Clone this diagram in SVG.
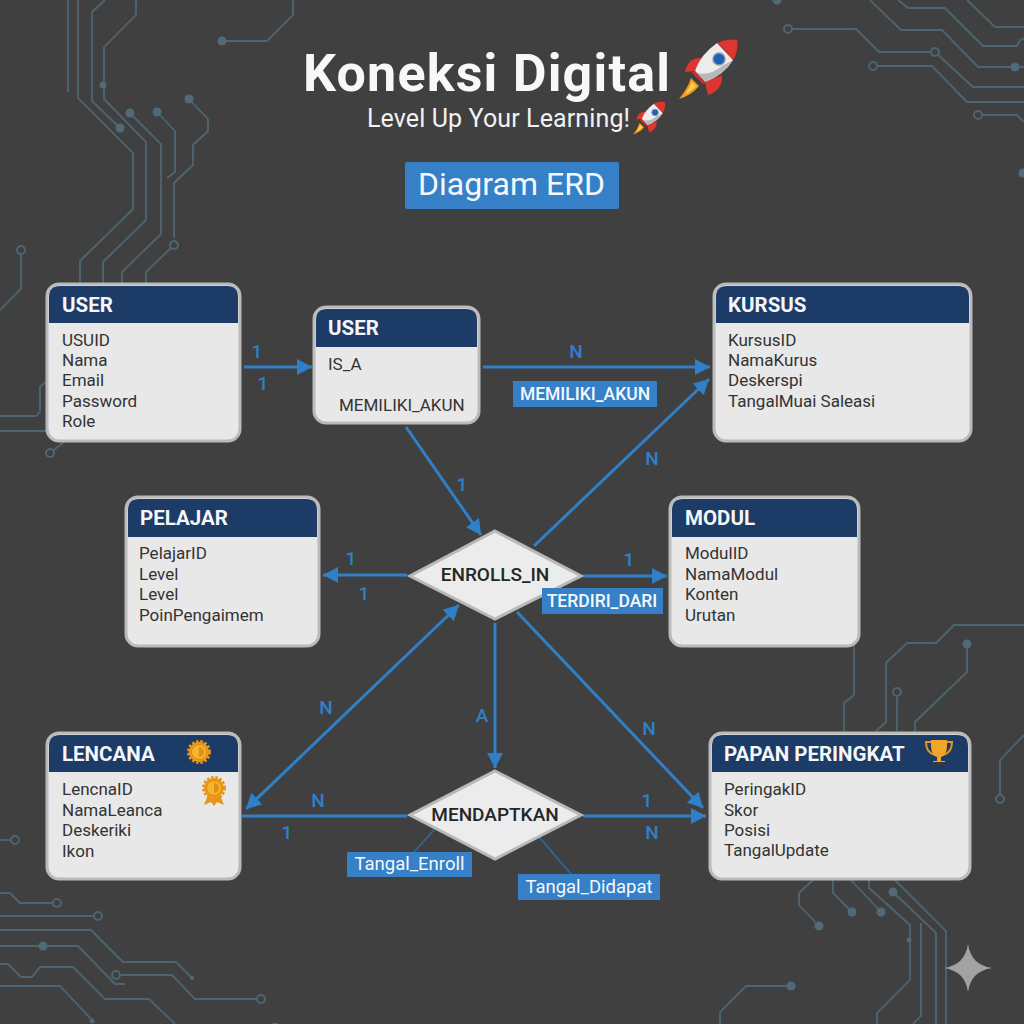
<svg xmlns="http://www.w3.org/2000/svg" xmlns:xlink="http://www.w3.org/1999/xlink" width="1024" height="1024" viewBox="0 0 1024 1024">
<style>
text{font-family:Roboto,"Noto Sans","Liberation Sans",sans-serif}
.tr{fill:none;stroke:#4d6572;stroke-width:1.8}
.dot{fill:#506a78}
.ring{fill:#404040;stroke:#4d6572;stroke-width:2}
.box{fill:#e8e8e8;stroke:#bababa;stroke-width:3}
.hd{fill:#1c3b66}
.ht{font-size:20.500px;font-weight:700;fill:#f4f6f8}
.bt{font-size:17px;fill:#333}
.dm{fill:#ececec;stroke:#b9b9b9;stroke-width:3}
.dt{font-size:19px;font-weight:500;fill:#262626;text-anchor:middle}
.c{fill:none;stroke:#2f80c8;stroke-width:3}
.thin{fill:none;stroke:#2a6ca6;stroke-width:1.5}
.card{font-size:19px;font-weight:500;fill:#2f80c8;text-anchor:middle}
.lb{fill:#3580c6}
.lt{font-size:17.500px;font-weight:500;fill:#f4f8fc;text-anchor:middle}
.lc{font-size:18.500px;font-weight:400}
</style>
<defs>
<marker id="ah" markerUnits="userSpaceOnUse" markerWidth="16" markerHeight="16" refX="15" refY="8" orient="auto-start-reverse"><path d="M0,0L15,8L0,16Z" fill="#2f80c8"/></marker>
<g id="rocket">
<path d="M691,78Q688,88 679,99Q692,95 699,86Z" fill="#f39a1e"/>
<path d="M692,82Q689,89 685,94Q692,91 696,86Z" fill="#fbd34a"/>
<path d="M702,58Q688,57 685,72L696,71Z" fill="#e0352f"/>
<path d="M722,75Q723,90 708,95L705,82Z" fill="#e0352f"/>
<path d="M717,43Q700,55 695,71L705,82Q724,75 733,60Z" fill="#ececec"/>
<path d="M697,73L705,82Q724,75 733,60L722,66Q710,76 697,73Z" fill="#b9b9b9"/>
<path d="M694,70L706,83L703,84L692,73Z" fill="#c9302c"/>
<path d="M717,43Q727,38 737,40Q739,50 733,60Q725,50 717,43Z" fill="#e0352f"/>
<circle cx="719" cy="59" r="6" fill="#1f5fb5" stroke="#8d99a6" stroke-width="1.5"/>
</g>
<g id="medal">
<circle r="10" fill="#f0a01e" stroke="#e8941a" stroke-width="4" stroke-dasharray="2.4 1.6"/>
<circle r="7.5" fill="#f7b52c" stroke="#d98a14" stroke-width="1"/>
<path d="M0,-5A5,5 0 0 1 0,5Z" fill="#e08f16"/>
</g>
</defs>
<rect id="background" width="1024" height="1024" fill="#404040"/>
<g id="circuit-traces">
<path class="tr" d="M68,0V92"/>
<path class="tr" d="M78,0V98L133,153V209L80,261V283"/>
<path class="tr" d="M105,0L92,12V101L120,128"/>
<path class="tr" d="M136,0V15L104,47V99L146,142V220L103,262V283"/>
<path class="tr" d="M130,113L161,144V234L122,272V283"/>
<path class="tr" d="M157,112L175,131V172L167,178"/>
<path class="tr" d="M189,99L208,119V131L193,145V165L174,183V238"/>
<path class="tr" d="M174,245L146,272V283"/>
<path class="tr" d="M222,41H267L293,15V0"/>
<path class="tr" d="M21,250V289L0,310"/>
<path class="tr" d="M0,416H36L40,412V387L47,381"/>
<path class="tr" d="M0,431H47"/>
<path class="tr" d="M50,453L64,442"/>
<path class="tr" d="M788,29H856L879,52H935L973,87H1024"/>
<path class="tr" d="M873,66H932L967,102H1024"/>
<path class="tr" d="M870,0L901,30H942L978,67H1024"/>
<path class="tr" d="M898,0L908,8H945L983,46H1017Q1019,40 1024,38"/>
<path class="tr" d="M967,0L995,27H1024"/>
<path class="tr" d="M978,115H1017L1024,122"/>
<path class="tr" d="M854,640V695L844,703V731"/>
<path class="tr" d="M1024,625H954L936,643H907L886,663V722L876,731"/>
<path class="tr" d="M967,644V672L915,722V731"/>
<path class="tr" d="M897,692V731"/>
<path class="tr" d="M1024,735L1000,760V799"/>
<path class="tr" d="M813,880L799,893V905L819,926"/>
<path class="tr" d="M833,880V893L852,912"/>
<path class="tr" d="M851,880L881,912"/>
<path class="tr" d="M869,880V888L910,925V980L877,1013V1024"/>
<path class="tr" d="M893,892L936,933V1024"/>
<path class="tr" d="M895,880L946,931V1024"/>
<path class="tr" d="M921,923V1016L913,1024"/>
<path class="tr" d="M791,986H746L720,1012V1024"/>
<path class="tr" d="M0,840H15"/>
<path class="tr" d="M0,893H10L20,903H57"/>
<path class="tr" d="M0,916H98"/>
<path class="tr" d="M0,930H91L123,962H176L192,978"/>
<path class="tr" d="M0,946H78L115,984H125"/>
<path class="tr" d="M116,975H172L195,999H261"/>
<path class="tr" d="M0,964H8L21,977H32L40,967H73L105,999H149L175,1024"/>
<path class="tr" d="M0,986H60L92,1020"/>
<g class="dot">
<circle cx="120" cy="128" r="4.5"/><circle cx="130" cy="113" r="4.5"/><circle cx="157" cy="112" r="4.5"/><circle cx="189" cy="99" r="4.5"/><circle cx="222" cy="41" r="4.5"/><circle cx="103" cy="85" r="3.5"/><circle cx="777" cy="0" r="4.5"/><circle cx="1015" cy="67" r="4.5"/><circle cx="1023" cy="173" r="4.5"/><circle cx="967" cy="644" r="4.5"/><circle cx="819" cy="926" r="4.5"/><circle cx="852" cy="912" r="4.5"/><circle cx="881" cy="912" r="4.5"/><circle cx="893" cy="892" r="4.5"/><circle cx="909" cy="940" r="2.5"/><circle cx="791" cy="986" r="4.5"/><circle cx="43" cy="946" r="4.5"/><circle cx="192" cy="978" r="2"/><circle cx="92" cy="1021" r="2.5"/><circle cx="275" cy="1026" r="3.5"/>
</g>
<g class="ring">
<circle cx="174" cy="245" r="4"/><circle cx="21" cy="250" r="4"/><circle cx="50" cy="453" r="4"/><circle cx="788" cy="29" r="4"/><circle cx="935" cy="52" r="4"/><circle cx="873" cy="66" r="4"/><circle cx="978" cy="115" r="4"/><circle cx="897" cy="692" r="4"/><circle cx="1000" cy="799" r="4"/><circle cx="15" cy="840" r="4"/><circle cx="57" cy="903" r="4"/><circle cx="98" cy="916" r="4"/><circle cx="116" cy="975" r="4"/><circle cx="261" cy="999" r="4"/>
</g>
</g>
<g id="title">
<text x="303" y="91" font-size="52" font-weight="700" fill="#f8f8f8" textLength="367">Koneksi Digital</text>
<use xlink:href="#rocket" href="#rocket"/>
<text x="367" y="127" font-size="25" fill="#f2f2f2" textLength="263">Level Up Your Learning!</text>
<use xlink:href="#rocket" href="#rocket" transform="translate(259.6 80) scale(.55)"/>
<rect x="405" y="162" width="214" height="47" rx="2" fill="#3580c6"/>
<text x="418" y="195" font-size="32" fill="#f4f8fc" textLength="187">Diagram ERD</text>
</g>
<g id="connectors">
<path class="c" d="M244,367H312" marker-end="url(#ah)"/>
<path class="c" d="M483,367H710" marker-end="url(#ah)"/>
<path class="c" d="M406,427L481,535" marker-end="url(#ah)"/>
<path class="c" d="M407,575H323" marker-end="url(#ah)"/>
<path class="c" d="M246,809L459,605" marker-start="url(#ah)" marker-end="url(#ah)"/>
<path class="c" d="M534,546L709,379" marker-end="url(#ah)"/>
<path class="c" d="M583,576H667" marker-end="url(#ah)"/>
<path class="c" d="M495,623V768" marker-end="url(#ah)"/>
<path class="c" d="M517,612L703,808" marker-end="url(#ah)"/>
<path class="c" d="M242,816H407"/>
<path class="c" d="M583,816H706" marker-end="url(#ah)"/>
<path class="thin" d="M435,829L413,853"/>
<path class="thin" d="M539,837L571,874"/>
<g id="cardinalities">
<text class="card" x="257" y="358">1</text><text class="card" x="263" y="390">1</text>
<text class="card" x="576" y="358">N</text><text class="card" x="462" y="491">1</text>
<text class="card" x="351" y="565">1</text><text class="card" x="364" y="600">1</text>
<text class="card" x="652" y="465">N</text><text class="card" x="629" y="566">1</text>
<text class="card" x="326" y="714">N</text><text class="card" x="482" y="722">A</text>
<text class="card" x="649" y="735">N</text><text class="card" x="318" y="807">N</text>
<text class="card" x="287" y="839">1</text><text class="card" x="647" y="807">1</text>
<text class="card" x="652" y="839">N</text>
</g>
</g>
<g id="node-user">
<rect class="box" x="47" y="284" width="193" height="157" rx="12"/>
<path class="hd" d="M49,323V297Q49,286 60,286H227Q238,286 238,297V323Z"/>
<text class="ht" x="62" y="312">USER</text>
<text class="bt" x="62" y="345.500">USUID</text><text class="bt" x="62" y="365.500">Nama</text><text class="bt" x="62" y="386">Email</text><text class="bt" x="62" y="406.500">Password</text><text class="bt" x="62" y="426.500">Role</text>
</g>
<g id="node-user-isa">
<rect class="box" x="314" y="307" width="165" height="116" rx="12"/>
<path class="hd" d="M316,347V320Q316,309 327,309H466Q477,309 477,320V347Z"/>
<text class="ht" x="328" y="335">USER</text>
<text class="bt" x="328" y="370">IS_A</text><text class="bt" x="339" y="411">MEMILIKI_AKUN</text>
</g>
<g id="node-kursus">
<rect class="box" x="714" y="284" width="257" height="157" rx="12"/>
<path class="hd" d="M716,323V297Q716,286 727,286H958Q969,286 969,297V323Z"/>
<text class="ht" x="728" y="312">KURSUS</text>
<text class="bt" x="728" y="345.500">KursusID</text><text class="bt" x="728" y="365.500">NamaKurus</text><text class="bt" x="728" y="386">Deskerspi</text><text class="bt" x="728" y="406.500">TangalMuai Saleasi</text>
</g>
<g id="node-pelajar">
<rect class="box" x="126" y="497" width="193" height="149" rx="12"/>
<path class="hd" d="M128,537V510Q128,499 139,499H306Q317,499 317,510V537Z"/>
<text class="ht" x="140" y="525">PELAJAR</text>
<text class="bt" x="139" y="558.500">PelajarID</text><text class="bt" x="139" y="579.500">Level</text><text class="bt" x="139" y="599.500">Level</text><text class="bt" x="139" y="620.500">PoinPengaimem</text>
</g>
<g id="node-modul">
<rect class="box" x="670" y="497" width="189" height="149" rx="12"/>
<path class="hd" d="M672,537V510Q672,499 683,499H846Q857,499 857,510V537Z"/>
<text class="ht" x="685" y="525">MODUL</text>
<text class="bt" x="685" y="558.500">ModulID</text><text class="bt" x="685" y="579.500">NamaModul</text><text class="bt" x="685" y="599.500">Konten</text><text class="bt" x="685" y="620.500">Urutan</text>
</g>
<g id="node-lencana">
<rect class="box" x="47" y="733" width="193" height="146" rx="12"/>
<path class="hd" d="M49,772V746Q49,735 60,735H227Q238,735 238,746V772Z"/>
<text class="ht" x="62" y="761">LENCANA</text>
<use xlink:href="#medal" href="#medal" x="199" y="752"/>
<text class="bt" x="62" y="794.500">LencnaID</text><text class="bt" x="62" y="815.500">NamaLeanca</text><text class="bt" x="62" y="835.500">Deskeriki</text><text class="bt" x="62" y="856.500">Ikon</text>
<path d="M208,795L204,805L211,802L214,806L217,802L224,805L220,795Z" fill="#e8941a"/>
<use xlink:href="#medal" href="#medal" x="214" y="788"/>
</g>
<g id="node-papan-peringkat">
<rect class="box" x="710" y="733" width="260" height="146" rx="12"/>
<path class="hd" d="M712,772V746Q712,735 723,735H957Q968,735 968,746V772Z"/>
<text class="ht" x="724" y="761">PAPAN PERINGKAT</text>
<path d="M931,742H926Q926,753 935,755M947,742H952Q952,753 943,755" fill="none" stroke="#e8961c" stroke-width="2"/>
<path d="M931,740H947V746Q947,755 941,757V761H945V764H933V761H937V757Q931,755 931,746Z" fill="#f2a526"/>
<rect x="933" y="762" width="12" height="3.500" fill="#3a3a30"/>
<text class="bt" x="724" y="794.500">PeringakID</text><text class="bt" x="724" y="815.500">Skor</text><text class="bt" x="724" y="835.500">Posisi</text><text class="bt" x="724" y="855.500">TangalUpdate</text>
</g>
<g id="node-enrolls-in">
<path class="dm" d="M495,531L581,576L495,619L410,576Z"/>
<text class="dt" x="495" y="581">ENROLLS_IN</text>
</g>
<g id="node-mendapatkan">
<path class="dm" d="M495,771L581,815L495,859L410,815Z"/>
<text class="dt" x="495" y="821">MENDAPTKAN</text>
</g>
<g id="label-memiliki-akun">
<rect class="lb" x="513" y="381" width="144" height="26"/>
<text class="lt" x="585" y="400">MEMILIKI_AKUN</text>
</g>
<g id="label-terdiri-dari">
<rect class="lb" x="542" y="588" width="121" height="26"/>
<text class="lt" x="602" y="607">TERDIRI_DARI</text>
</g>
<g id="label-tangal-enroll">
<rect class="lb" x="347" y="852" width="125" height="25"/>
<text class="lt lc" x="409.500" y="870">Tangal_Enroll</text>
</g>
<g id="label-tangal-didapat">
<rect class="lb" x="518" y="874" width="142" height="26"/>
<text class="lt lc" x="589" y="893">Tangal_Didapat</text>
</g>
<path id="sparkle" d="M968,944Q971,965 992,968Q971,971 968,992Q965,971 944,968Q965,965 968,944Z" fill="#a2a2a2"/>
</svg>
